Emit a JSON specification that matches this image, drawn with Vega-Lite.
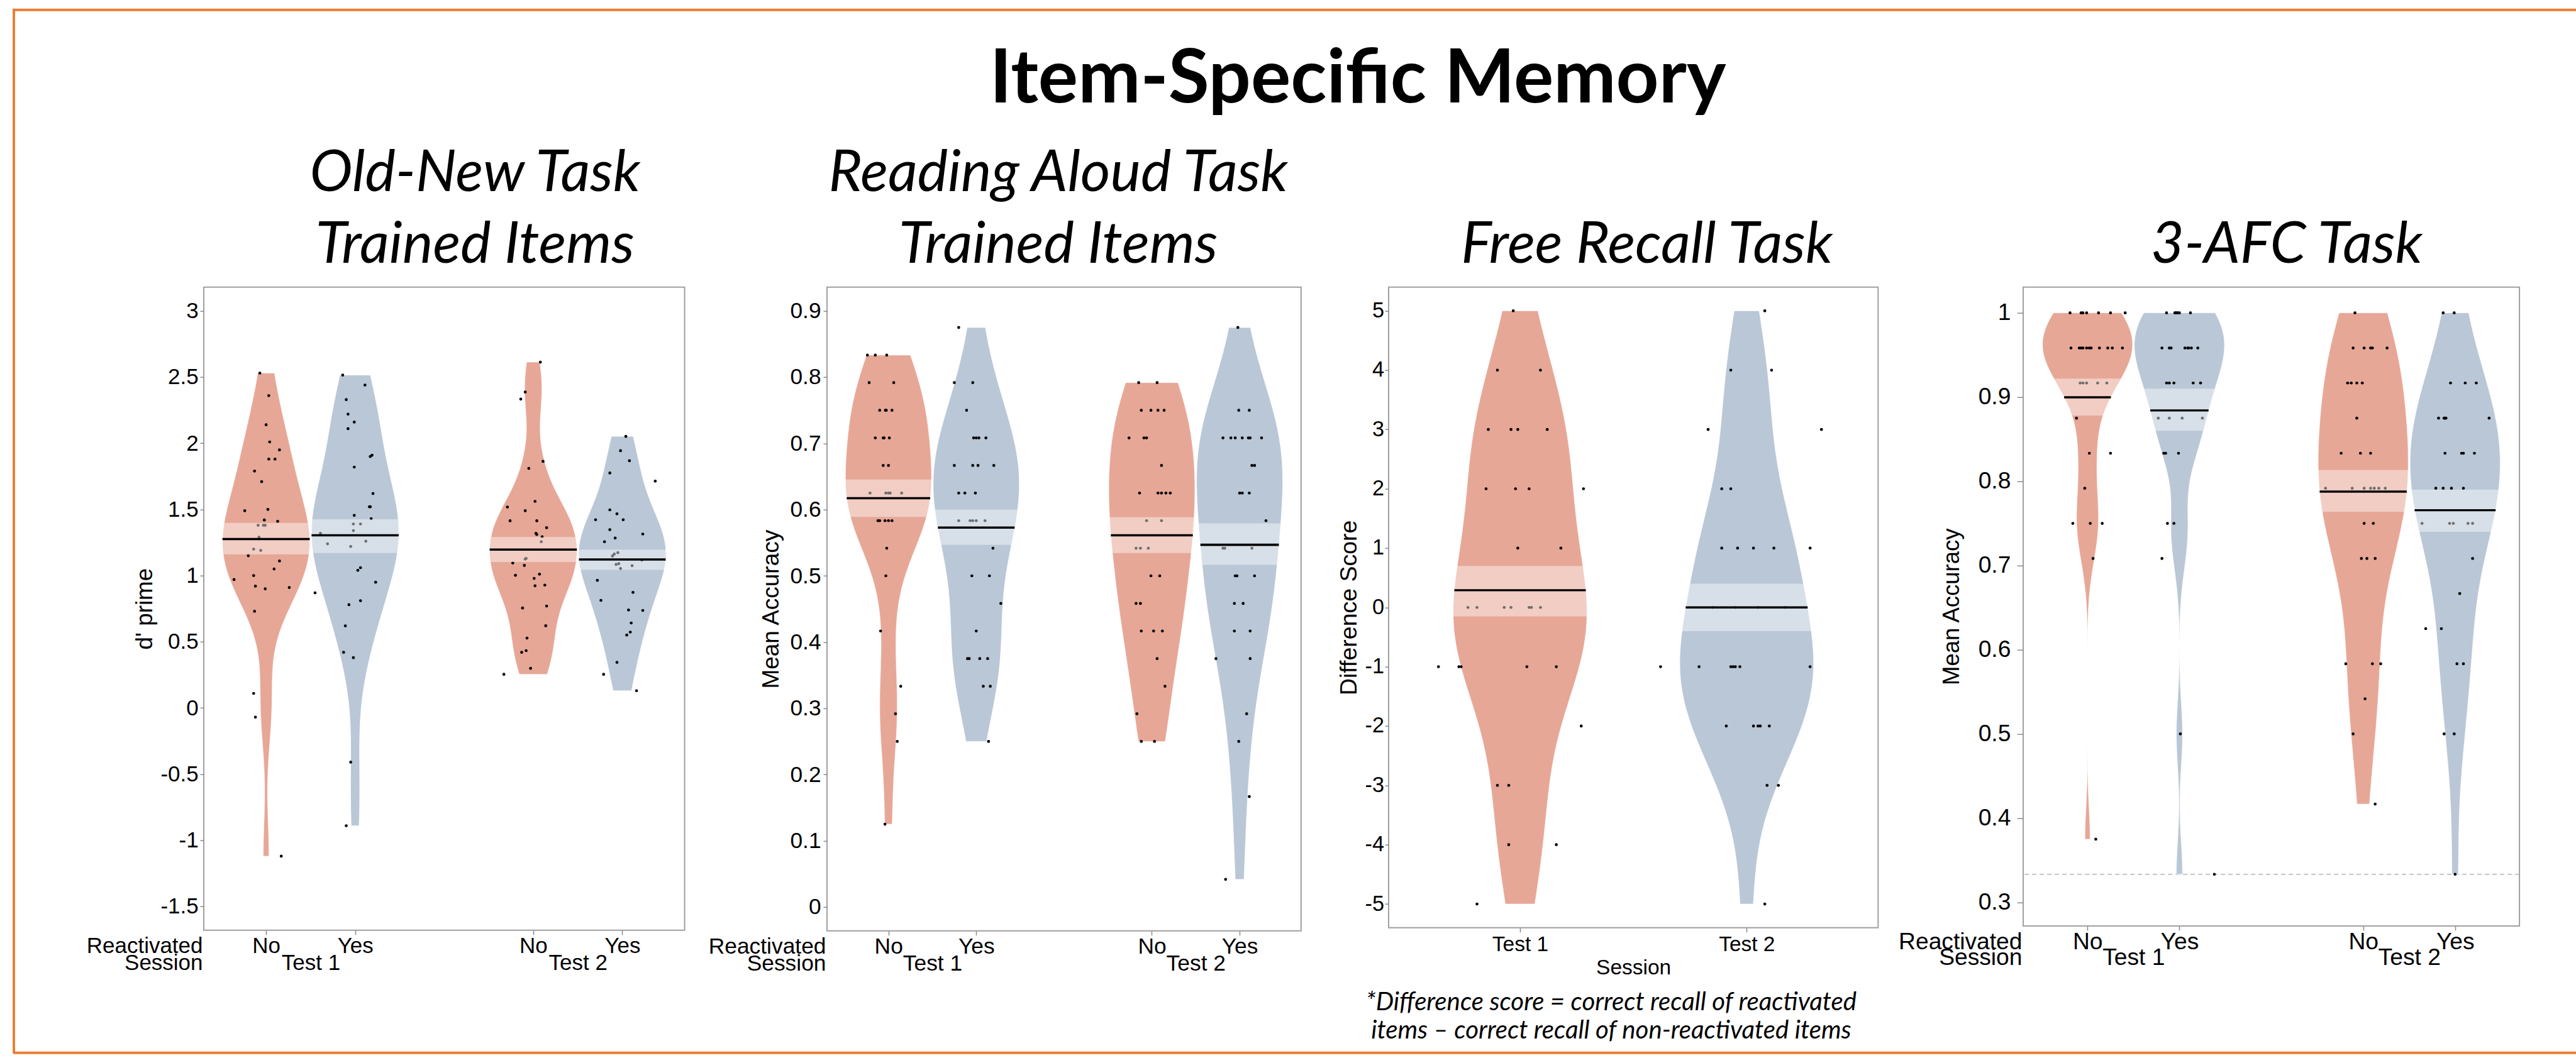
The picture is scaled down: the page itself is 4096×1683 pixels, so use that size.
{
"$schema": "https://vega.github.io/schema/vega-lite/v6.json",
"background": "white",
"padding": {"left": 20, "top": 13.7, "right": -18, "bottom": 3},
"config": {
 "font": "Liberation Sans",
 "view": {"stroke": null},
 "locale": {"number": {"decimal": ".", "thousands": ",", "grouping": [3], "currency": ["$", ""], "minus": "-"}},
 "axis": {"labelFont": "Liberation Sans", "titleFont": "Liberation Sans", "labelColor": "black", "titleColor": "black", "titleFontWeight": "normal", "tickColor": "#8c8c8c", "tickWidth": 1.5, "grid": false, "domain": false, "labelOverlap": false, "labelFlush": false, "labelAngle": 0}
},
"datasets": {
 "p1": [
  {"g":"T1 No","p":1,"v":2.53,"x":0.93},{"g":"T1 No","p":1,"v":2.36,"x":1.03},{"g":"T1 No","p":1,"v":2.14,"x":1.0},{"g":"T1 No","p":1,"v":2.01,"x":1.04},{"g":"T1 No","p":1,"v":1.88,"x":1.03},{"g":"T1 No","p":1,"v":1.88,"x":1.1},{"g":"T1 No","p":1,"v":1.95,"x":1.15},{"g":"T1 No","p":1,"v":1.79,"x":0.87},{"g":"T1 No","p":1,"v":1.71,"x":0.95},{"g":"T1 No","p":1,"v":1.49,"x":0.76},{"g":"T1 No","p":1,"v":1.5,"x":1.02},{"g":"T1 No","p":1,"v":1.42,"x":0.98},{"g":"T1 No","p":1,"v":1.41,"x":1.13},{"g":"T1 No","p":1,"v":1.38,"x":0.91},{"g":"T1 No","p":1,"v":1.38,"x":0.97},{"g":"T1 No","p":1,"v":1.38,"x":0.99},{"g":"T1 No","p":1,"v":1.29,"x":0.92},{"g":"T1 No","p":1,"v":1.2,"x":0.86},{"g":"T1 No","p":1,"v":1.19,"x":0.94},{"g":"T1 No","p":1,"v":1.15,"x":0.8},{"g":"T1 No","p":1,"v":1.11,"x":1.15},{"g":"T1 No","p":1,"v":1.05,"x":1.09},{"g":"T1 No","p":1,"v":0.97,"x":0.64},{"g":"T1 No","p":1,"v":1.0,"x":0.86},{"g":"T1 No","p":1,"v":0.92,"x":0.88},{"g":"T1 No","p":1,"v":0.9,"x":0.99},{"g":"T1 No","p":1,"v":0.91,"x":1.26},{"g":"T1 No","p":1,"v":0.73,"x":0.87},{"g":"T1 No","p":1,"v":0.11,"x":0.86},{"g":"T1 No","p":1,"v":-0.07,"x":0.88},{"g":"T1 No","p":1,"v":-1.12,"x":1.17},
  {"g":"T1 Yes","p":2,"v":2.515,"x":1.86},{"g":"T1 Yes","p":2,"v":2.44,"x":2.11},{"g":"T1 Yes","p":2,"v":2.33,"x":1.9},{"g":"T1 Yes","p":2,"v":2.22,"x":1.92},{"g":"T1 Yes","p":2,"v":2.16,"x":1.99},{"g":"T1 Yes","p":2,"v":2.11,"x":1.92},{"g":"T1 Yes","p":2,"v":1.91,"x":2.19},{"g":"T1 Yes","p":2,"v":1.9,"x":2.17},{"g":"T1 Yes","p":2,"v":1.82,"x":1.99},{"g":"T1 Yes","p":2,"v":1.62,"x":2.2},{"g":"T1 Yes","p":2,"v":1.52,"x":2.16},{"g":"T1 Yes","p":2,"v":1.52,"x":2.17},{"g":"T1 Yes","p":2,"v":1.455,"x":1.99},{"g":"T1 Yes","p":2,"v":1.43,"x":2.18},{"g":"T1 Yes","p":2,"v":1.39,"x":2.06},{"g":"T1 Yes","p":2,"v":1.39,"x":1.98},{"g":"T1 Yes","p":2,"v":1.34,"x":1.98},{"g":"T1 Yes","p":2,"v":1.32,"x":1.61},{"g":"T1 Yes","p":2,"v":1.26,"x":2.12},{"g":"T1 Yes","p":2,"v":1.24,"x":1.69},{"g":"T1 Yes","p":2,"v":1.22,"x":1.95},{"g":"T1 Yes","p":2,"v":1.06,"x":2.06},{"g":"T1 Yes","p":2,"v":1.04,"x":2.03},{"g":"T1 Yes","p":2,"v":0.95,"x":2.23},{"g":"T1 Yes","p":2,"v":0.87,"x":1.55},{"g":"T1 Yes","p":2,"v":0.78,"x":1.93},{"g":"T1 Yes","p":2,"v":0.81,"x":2.06},{"g":"T1 Yes","p":2,"v":0.62,"x":1.89},{"g":"T1 Yes","p":2,"v":0.42,"x":1.87},{"g":"T1 Yes","p":2,"v":0.38,"x":1.98},{"g":"T1 Yes","p":2,"v":-0.41,"x":1.95},{"g":"T1 Yes","p":2,"v":-0.89,"x":1.9},
  {"g":"T2 No","p":4,"v":2.613,"x":4.08},{"g":"T2 No","p":4,"v":2.387,"x":3.91},{"g":"T2 No","p":4,"v":2.334,"x":3.86},{"g":"T2 No","p":4,"v":1.863,"x":4.11},{"g":"T2 No","p":4,"v":1.81,"x":3.95},{"g":"T2 No","p":4,"v":1.561,"x":4.02},{"g":"T2 No","p":4,"v":1.518,"x":3.71},{"g":"T2 No","p":4,"v":1.49,"x":3.91},{"g":"T2 No","p":4,"v":1.414,"x":3.74},{"g":"T2 No","p":4,"v":1.414,"x":4.04},{"g":"T2 No","p":4,"v":1.362,"x":4.15},{"g":"T2 No","p":4,"v":1.319,"x":4.03},{"g":"T2 No","p":4,"v":1.311,"x":4.04},{"g":"T2 No","p":4,"v":1.294,"x":4.1},{"g":"T2 No","p":4,"v":1.256,"x":4.09},{"g":"T2 No","p":4,"v":1.13,"x":3.92},{"g":"T2 No","p":4,"v":1.125,"x":3.91},{"g":"T2 No","p":4,"v":1.095,"x":3.77},{"g":"T2 No","p":4,"v":1.077,"x":3.9},{"g":"T2 No","p":4,"v":1.002,"x":3.8},{"g":"T2 No","p":4,"v":0.979,"x":4.01},{"g":"T2 No","p":4,"v":1.011,"x":4.07},{"g":"T2 No","p":4,"v":0.923,"x":4.02},{"g":"T2 No","p":4,"v":0.928,"x":4.13},{"g":"T2 No","p":4,"v":0.755,"x":3.88},{"g":"T2 No","p":4,"v":0.77,"x":4.15},{"g":"T2 No","p":4,"v":0.621,"x":4.14},{"g":"T2 No","p":4,"v":0.528,"x":3.93},{"g":"T2 No","p":4,"v":0.42,"x":3.87},{"g":"T2 No","p":4,"v":0.433,"x":3.92},{"g":"T2 No","p":4,"v":0.299,"x":3.97},{"g":"T2 No","p":4,"v":0.254,"x":3.67},
  {"g":"T2 Yes","p":5,"v":2.052,"x":5.04},{"g":"T2 Yes","p":5,"v":1.944,"x":4.98},{"g":"T2 Yes","p":5,"v":1.868,"x":5.08},{"g":"T2 Yes","p":5,"v":1.775,"x":4.86},{"g":"T2 Yes","p":5,"v":1.714,"x":5.37},{"g":"T2 Yes","p":5,"v":1.497,"x":4.86},{"g":"T2 Yes","p":5,"v":1.467,"x":4.94},{"g":"T2 Yes","p":5,"v":1.422,"x":4.7},{"g":"T2 Yes","p":5,"v":1.422,"x":5.01},{"g":"T2 Yes","p":5,"v":1.347,"x":4.86},{"g":"T2 Yes","p":5,"v":1.314,"x":5.23},{"g":"T2 Yes","p":5,"v":1.284,"x":4.92},{"g":"T2 Yes","p":5,"v":1.256,"x":4.8},{"g":"T2 Yes","p":5,"v":1.173,"x":4.95},{"g":"T2 Yes","p":5,"v":1.163,"x":4.91},{"g":"T2 Yes","p":5,"v":1.148,"x":4.89},{"g":"T2 Yes","p":5,"v":1.117,"x":5.22},{"g":"T2 Yes","p":5,"v":1.09,"x":4.96},{"g":"T2 Yes","p":5,"v":1.084,"x":4.93},{"g":"T2 Yes","p":5,"v":1.075,"x":5.11},{"g":"T2 Yes","p":5,"v":1.054,"x":4.98},{"g":"T2 Yes","p":5,"v":0.964,"x":4.72},{"g":"T2 Yes","p":5,"v":0.873,"x":5.12},{"g":"T2 Yes","p":5,"v":0.813,"x":4.76},{"g":"T2 Yes","p":5,"v":0.74,"x":5.07},{"g":"T2 Yes","p":5,"v":0.737,"x":5.23},{"g":"T2 Yes","p":5,"v":0.642,"x":5.1},{"g":"T2 Yes","p":5,"v":0.573,"x":5.09},{"g":"T2 Yes","p":5,"v":0.551,"x":5.05},{"g":"T2 Yes","p":5,"v":0.344,"x":4.94},{"g":"T2 Yes","p":5,"v":0.254,"x":4.79},{"g":"T2 Yes","p":5,"v":0.13,"x":5.16}
 ],
 "p2": [
  {"g":"T1 No","p":1,"v":0.8333,"x":0.76},{"g":"T1 No","p":1,"v":0.8333,"x":0.85},{"g":"T1 No","p":1,"v":0.8333,"x":0.98},{"g":"T1 No","p":1,"v":0.7917,"x":0.78},{"g":"T1 No","p":1,"v":0.7917,"x":1.06},{"g":"T1 No","p":1,"v":0.75,"x":0.9},{"g":"T1 No","p":1,"v":0.75,"x":0.965},{"g":"T1 No","p":1,"v":0.75,"x":0.975},{"g":"T1 No","p":1,"v":0.75,"x":1.04},{"g":"T1 No","p":1,"v":0.7083,"x":0.85},{"g":"T1 No","p":1,"v":0.7083,"x":0.94},{"g":"T1 No","p":1,"v":0.7083,"x":0.95},{"g":"T1 No","p":1,"v":0.7083,"x":1.01},{"g":"T1 No","p":1,"v":0.6667,"x":0.94},{"g":"T1 No","p":1,"v":0.6667,"x":1.0},{"g":"T1 No","p":1,"v":0.625,"x":0.79},{"g":"T1 No","p":1,"v":0.625,"x":0.97},{"g":"T1 No","p":1,"v":0.625,"x":1.0},{"g":"T1 No","p":1,"v":0.625,"x":1.02},{"g":"T1 No","p":1,"v":0.625,"x":1.15},{"g":"T1 No","p":1,"v":0.5833,"x":0.88},{"g":"T1 No","p":1,"v":0.5833,"x":0.9},{"g":"T1 No","p":1,"v":0.5833,"x":0.96},{"g":"T1 No","p":1,"v":0.5833,"x":1.0},{"g":"T1 No","p":1,"v":0.5833,"x":1.04},{"g":"T1 No","p":1,"v":0.5417,"x":0.98},{"g":"T1 No","p":1,"v":0.5,"x":0.97},{"g":"T1 No","p":1,"v":0.4167,"x":0.91},{"g":"T1 No","p":1,"v":0.3333,"x":1.14},{"g":"T1 No","p":1,"v":0.2917,"x":1.08},{"g":"T1 No","p":1,"v":0.25,"x":1.1},{"g":"T1 No","p":1,"v":0.125,"x":0.96},
  {"g":"T1 Yes","p":2,"v":0.875,"x":1.8},{"g":"T1 Yes","p":2,"v":0.7917,"x":1.75},{"g":"T1 Yes","p":2,"v":0.7917,"x":1.96},{"g":"T1 Yes","p":2,"v":0.75,"x":1.89},{"g":"T1 Yes","p":2,"v":0.7083,"x":1.97},{"g":"T1 Yes","p":2,"v":0.7083,"x":2.0},{"g":"T1 Yes","p":2,"v":0.7083,"x":2.03},{"g":"T1 Yes","p":2,"v":0.7083,"x":2.11},{"g":"T1 Yes","p":2,"v":0.6667,"x":1.75},{"g":"T1 Yes","p":2,"v":0.6667,"x":1.96},{"g":"T1 Yes","p":2,"v":0.6667,"x":2.02},{"g":"T1 Yes","p":2,"v":0.6667,"x":2.2},{"g":"T1 Yes","p":2,"v":0.625,"x":1.8},{"g":"T1 Yes","p":2,"v":0.625,"x":1.87},{"g":"T1 Yes","p":2,"v":0.625,"x":1.99},{"g":"T1 Yes","p":2,"v":0.5833,"x":1.8},{"g":"T1 Yes","p":2,"v":0.5833,"x":1.93},{"g":"T1 Yes","p":2,"v":0.5833,"x":1.96},{"g":"T1 Yes","p":2,"v":0.5833,"x":2.0},{"g":"T1 Yes","p":2,"v":0.5833,"x":2.1},{"g":"T1 Yes","p":2,"v":0.5417,"x":2.19},{"g":"T1 Yes","p":2,"v":0.5,"x":1.95},{"g":"T1 Yes","p":2,"v":0.5,"x":2.15},{"g":"T1 Yes","p":2,"v":0.4583,"x":2.28},{"g":"T1 Yes","p":2,"v":0.4167,"x":2.0},{"g":"T1 Yes","p":2,"v":0.375,"x":1.9},{"g":"T1 Yes","p":2,"v":0.375,"x":1.92},{"g":"T1 Yes","p":2,"v":0.375,"x":2.04},{"g":"T1 Yes","p":2,"v":0.375,"x":2.13},{"g":"T1 Yes","p":2,"v":0.3333,"x":2.08},{"g":"T1 Yes","p":2,"v":0.3333,"x":2.16},{"g":"T1 Yes","p":2,"v":0.25,"x":2.14},
  {"g":"T2 No","p":4,"v":0.7917,"x":3.85},{"g":"T2 No","p":4,"v":0.7917,"x":4.06},{"g":"T2 No","p":4,"v":0.75,"x":3.88},{"g":"T2 No","p":4,"v":0.75,"x":3.99},{"g":"T2 No","p":4,"v":0.75,"x":4.07},{"g":"T2 No","p":4,"v":0.75,"x":4.14},{"g":"T2 No","p":4,"v":0.7083,"x":3.74},{"g":"T2 No","p":4,"v":0.7083,"x":3.91},{"g":"T2 No","p":4,"v":0.7083,"x":3.94},{"g":"T2 No","p":4,"v":0.6667,"x":4.11},{"g":"T2 No","p":4,"v":0.625,"x":3.86},{"g":"T2 No","p":4,"v":0.625,"x":4.07},{"g":"T2 No","p":4,"v":0.625,"x":4.11},{"g":"T2 No","p":4,"v":0.625,"x":4.16},{"g":"T2 No","p":4,"v":0.625,"x":4.21},{"g":"T2 No","p":4,"v":0.5833,"x":3.94},{"g":"T2 No","p":4,"v":0.5833,"x":4.11},{"g":"T2 No","p":4,"v":0.5417,"x":3.82},{"g":"T2 No","p":4,"v":0.5417,"x":3.87},{"g":"T2 No","p":4,"v":0.5417,"x":3.96},{"g":"T2 No","p":4,"v":0.5,"x":3.99},{"g":"T2 No","p":4,"v":0.5,"x":4.09},{"g":"T2 No","p":4,"v":0.4583,"x":3.82},{"g":"T2 No","p":4,"v":0.4583,"x":3.87},{"g":"T2 No","p":4,"v":0.4167,"x":3.88},{"g":"T2 No","p":4,"v":0.4167,"x":4.02},{"g":"T2 No","p":4,"v":0.4167,"x":4.12},{"g":"T2 No","p":4,"v":0.375,"x":4.06},{"g":"T2 No","p":4,"v":0.3333,"x":4.15},{"g":"T2 No","p":4,"v":0.2917,"x":3.83},{"g":"T2 No","p":4,"v":0.25,"x":3.88},{"g":"T2 No","p":4,"v":0.25,"x":4.03},
  {"g":"T2 Yes","p":5,"v":0.875,"x":4.98},{"g":"T2 Yes","p":5,"v":0.75,"x":4.99},{"g":"T2 Yes","p":5,"v":0.75,"x":5.11},{"g":"T2 Yes","p":5,"v":0.7083,"x":4.81},{"g":"T2 Yes","p":5,"v":0.7083,"x":4.9},{"g":"T2 Yes","p":5,"v":0.7083,"x":4.95},{"g":"T2 Yes","p":5,"v":0.7083,"x":5.03},{"g":"T2 Yes","p":5,"v":0.7083,"x":5.1},{"g":"T2 Yes","p":5,"v":0.7083,"x":5.12},{"g":"T2 Yes","p":5,"v":0.7083,"x":5.25},{"g":"T2 Yes","p":5,"v":0.6667,"x":5.14},{"g":"T2 Yes","p":5,"v":0.6667,"x":5.17},{"g":"T2 Yes","p":5,"v":0.625,"x":5.0},{"g":"T2 Yes","p":5,"v":0.625,"x":5.03},{"g":"T2 Yes","p":5,"v":0.625,"x":5.11},{"g":"T2 Yes","p":5,"v":0.5833,"x":5.3},{"g":"T2 Yes","p":5,"v":0.5417,"x":4.81},{"g":"T2 Yes","p":5,"v":0.5417,"x":4.83},{"g":"T2 Yes","p":5,"v":0.5417,"x":5.14},{"g":"T2 Yes","p":5,"v":0.5,"x":4.95},{"g":"T2 Yes","p":5,"v":0.5,"x":4.97},{"g":"T2 Yes","p":5,"v":0.5,"x":5.17},{"g":"T2 Yes","p":5,"v":0.4583,"x":4.94},{"g":"T2 Yes","p":5,"v":0.4583,"x":5.04},{"g":"T2 Yes","p":5,"v":0.4167,"x":4.94},{"g":"T2 Yes","p":5,"v":0.4167,"x":5.12},{"g":"T2 Yes","p":5,"v":0.375,"x":4.73},{"g":"T2 Yes","p":5,"v":0.375,"x":5.12},{"g":"T2 Yes","p":5,"v":0.2917,"x":5.08},{"g":"T2 Yes","p":5,"v":0.25,"x":4.99},{"g":"T2 Yes","p":5,"v":0.1667,"x":5.11},{"g":"T2 Yes","p":5,"v":0.0417,"x":4.84}
 ],
 "p3": [
  {"g":"T1","p":1,"v":5,"x":0.97},{"g":"T1","p":1,"v":4,"x":0.9},{"g":"T1","p":1,"v":4,"x":1.09},{"g":"T1","p":1,"v":3,"x":0.86},{"g":"T1","p":1,"v":3,"x":0.96},{"g":"T1","p":1,"v":3,"x":0.99},{"g":"T1","p":1,"v":3,"x":1.12},{"g":"T1","p":1,"v":2,"x":0.85},{"g":"T1","p":1,"v":2,"x":0.98},{"g":"T1","p":1,"v":2,"x":1.04},{"g":"T1","p":1,"v":2,"x":1.28},{"g":"T1","p":1,"v":1,"x":0.99},{"g":"T1","p":1,"v":1,"x":1.18},{"g":"T1","p":1,"v":0,"x":0.77},{"g":"T1","p":1,"v":0,"x":0.81},{"g":"T1","p":1,"v":0,"x":0.93},{"g":"T1","p":1,"v":0,"x":0.96},{"g":"T1","p":1,"v":0,"x":1.04},{"g":"T1","p":1,"v":0,"x":1.05},{"g":"T1","p":1,"v":0,"x":1.09},{"g":"T1","p":1,"v":-1,"x":0.64},{"g":"T1","p":1,"v":-1,"x":0.73},{"g":"T1","p":1,"v":-1,"x":0.74},{"g":"T1","p":1,"v":-1,"x":1.03},{"g":"T1","p":1,"v":-1,"x":1.16},{"g":"T1","p":1,"v":-2,"x":1.27},{"g":"T1","p":1,"v":-3,"x":0.9},{"g":"T1","p":1,"v":-3,"x":0.95},{"g":"T1","p":1,"v":-4,"x":0.95},{"g":"T1","p":1,"v":-4,"x":1.16},{"g":"T1","p":1,"v":-5,"x":0.81},
  {"g":"T2","p":2,"v":5,"x":2.08},{"g":"T2","p":2,"v":4,"x":1.93},{"g":"T2","p":2,"v":4,"x":2.11},{"g":"T2","p":2,"v":3,"x":1.83},{"g":"T2","p":2,"v":3,"x":2.33},{"g":"T2","p":2,"v":2,"x":1.89},{"g":"T2","p":2,"v":2,"x":1.93},{"g":"T2","p":2,"v":1,"x":1.89},{"g":"T2","p":2,"v":1,"x":1.96},{"g":"T2","p":2,"v":1,"x":2.03},{"g":"T2","p":2,"v":1,"x":2.12},{"g":"T2","p":2,"v":1,"x":2.28},{"g":"T2","p":2,"v":0,"x":1.85},{"g":"T2","p":2,"v":0,"x":1.95},{"g":"T2","p":2,"v":0,"x":2.05},{"g":"T2","p":2,"v":0,"x":2.17},{"g":"T2","p":2,"v":-1,"x":1.62},{"g":"T2","p":2,"v":-1,"x":1.79},{"g":"T2","p":2,"v":-1,"x":1.93},{"g":"T2","p":2,"v":-1,"x":1.94},{"g":"T2","p":2,"v":-1,"x":1.95},{"g":"T2","p":2,"v":-1,"x":1.97},{"g":"T2","p":2,"v":-1,"x":2.28},{"g":"T2","p":2,"v":-2,"x":1.91},{"g":"T2","p":2,"v":-2,"x":2.03},{"g":"T2","p":2,"v":-2,"x":2.05},{"g":"T2","p":2,"v":-2,"x":2.06},{"g":"T2","p":2,"v":-2,"x":2.1},{"g":"T2","p":2,"v":-3,"x":2.09},{"g":"T2","p":2,"v":-3,"x":2.14},{"g":"T2","p":2,"v":-5,"x":2.08}
 ],
 "p4": [
  {"g":"T1 No","p":1,"v":1,"x":0.81},{"g":"T1 No","p":1,"v":1,"x":0.93},{"g":"T1 No","p":1,"v":1,"x":0.95},{"g":"T1 No","p":1,"v":1,"x":0.99},{"g":"T1 No","p":1,"v":1,"x":1.12},{"g":"T1 No","p":1,"v":1,"x":1.25},{"g":"T1 No","p":1,"v":1,"x":1.41},{"g":"T1 No","p":1,"v":0.9583,"x":0.82},{"g":"T1 No","p":1,"v":0.9583,"x":0.91},{"g":"T1 No","p":1,"v":0.9583,"x":0.93},{"g":"T1 No","p":1,"v":0.9583,"x":0.95},{"g":"T1 No","p":1,"v":0.9583,"x":0.99},{"g":"T1 No","p":1,"v":0.9583,"x":1.02},{"g":"T1 No","p":1,"v":0.9583,"x":1.04},{"g":"T1 No","p":1,"v":0.9583,"x":1.13},{"g":"T1 No","p":1,"v":0.9583,"x":1.22},{"g":"T1 No","p":1,"v":0.9583,"x":1.27},{"g":"T1 No","p":1,"v":0.9583,"x":1.38},{"g":"T1 No","p":1,"v":0.9167,"x":0.92},{"g":"T1 No","p":1,"v":0.9167,"x":0.95},{"g":"T1 No","p":1,"v":0.9167,"x":0.99},{"g":"T1 No","p":1,"v":0.9167,"x":1.11},{"g":"T1 No","p":1,"v":0.9167,"x":1.21},{"g":"T1 No","p":1,"v":0.875,"x":0.88},{"g":"T1 No","p":1,"v":0.8333,"x":1.02},{"g":"T1 No","p":1,"v":0.8333,"x":1.25},{"g":"T1 No","p":1,"v":0.7917,"x":0.97},{"g":"T1 No","p":1,"v":0.75,"x":0.84},{"g":"T1 No","p":1,"v":0.75,"x":1.03},{"g":"T1 No","p":1,"v":0.75,"x":1.16},{"g":"T1 No","p":1,"v":0.7083,"x":1.06},{"g":"T1 No","p":1,"v":0.375,"x":1.09},
  {"g":"T1 Yes","p":2,"v":1,"x":1.86},{"g":"T1 Yes","p":2,"v":1,"x":1.95},{"g":"T1 Yes","p":2,"v":1,"x":1.96},{"g":"T1 Yes","p":2,"v":1,"x":1.975},{"g":"T1 Yes","p":2,"v":1,"x":1.98},{"g":"T1 Yes","p":2,"v":1,"x":2.0},{"g":"T1 Yes","p":2,"v":1,"x":2.12},{"g":"T1 Yes","p":2,"v":0.9583,"x":1.81},{"g":"T1 Yes","p":2,"v":0.9583,"x":1.89},{"g":"T1 Yes","p":2,"v":0.9583,"x":1.91},{"g":"T1 Yes","p":2,"v":0.9583,"x":2.06},{"g":"T1 Yes","p":2,"v":0.9583,"x":2.09},{"g":"T1 Yes","p":2,"v":0.9583,"x":2.1},{"g":"T1 Yes","p":2,"v":0.9583,"x":2.13},{"g":"T1 Yes","p":2,"v":0.9583,"x":2.2},{"g":"T1 Yes","p":2,"v":0.9167,"x":1.86},{"g":"T1 Yes","p":2,"v":0.9167,"x":1.89},{"g":"T1 Yes","p":2,"v":0.9167,"x":1.94},{"g":"T1 Yes","p":2,"v":0.9167,"x":2.15},{"g":"T1 Yes","p":2,"v":0.9167,"x":2.23},{"g":"T1 Yes","p":2,"v":0.875,"x":1.77},{"g":"T1 Yes","p":2,"v":0.875,"x":1.89},{"g":"T1 Yes","p":2,"v":0.875,"x":2.03},{"g":"T1 Yes","p":2,"v":0.875,"x":2.25},{"g":"T1 Yes","p":2,"v":0.8333,"x":1.83},{"g":"T1 Yes","p":2,"v":0.8333,"x":1.85},{"g":"T1 Yes","p":2,"v":0.8333,"x":1.99},{"g":"T1 Yes","p":2,"v":0.75,"x":1.87},{"g":"T1 Yes","p":2,"v":0.75,"x":1.94},{"g":"T1 Yes","p":2,"v":0.7083,"x":1.81},{"g":"T1 Yes","p":2,"v":0.5,"x":2.01},{"g":"T1 Yes","p":2,"v":0.3333,"x":2.38},
  {"g":"T2 No","p":4,"v":1,"x":3.91},{"g":"T2 No","p":4,"v":0.9583,"x":3.89},{"g":"T2 No","p":4,"v":0.9583,"x":4.01},{"g":"T2 No","p":4,"v":0.9583,"x":4.08},{"g":"T2 No","p":4,"v":0.9583,"x":4.1},{"g":"T2 No","p":4,"v":0.9583,"x":4.26},{"g":"T2 No","p":4,"v":0.9167,"x":3.83},{"g":"T2 No","p":4,"v":0.9167,"x":3.87},{"g":"T2 No","p":4,"v":0.9167,"x":3.93},{"g":"T2 No","p":4,"v":0.9167,"x":3.99},{"g":"T2 No","p":4,"v":0.875,"x":3.93},{"g":"T2 No","p":4,"v":0.8333,"x":3.76},{"g":"T2 No","p":4,"v":0.8333,"x":3.97},{"g":"T2 No","p":4,"v":0.8333,"x":4.08},{"g":"T2 No","p":4,"v":0.7917,"x":3.59},{"g":"T2 No","p":4,"v":0.7917,"x":3.88},{"g":"T2 No","p":4,"v":0.7917,"x":4.01},{"g":"T2 No","p":4,"v":0.7917,"x":4.08},{"g":"T2 No","p":4,"v":0.7917,"x":4.12},{"g":"T2 No","p":4,"v":0.7917,"x":4.17},{"g":"T2 No","p":4,"v":0.7917,"x":4.24},{"g":"T2 No","p":4,"v":0.75,"x":4.01},{"g":"T2 No","p":4,"v":0.75,"x":4.11},{"g":"T2 No","p":4,"v":0.7083,"x":3.98},{"g":"T2 No","p":4,"v":0.7083,"x":4.04},{"g":"T2 No","p":4,"v":0.7083,"x":4.13},{"g":"T2 No","p":4,"v":0.5833,"x":3.81},{"g":"T2 No","p":4,"v":0.5833,"x":4.1},{"g":"T2 No","p":4,"v":0.5833,"x":4.19},{"g":"T2 No","p":4,"v":0.5417,"x":4.02},{"g":"T2 No","p":4,"v":0.5,"x":3.89},{"g":"T2 No","p":4,"v":0.4167,"x":4.13},
  {"g":"T2 Yes","p":5,"v":1,"x":4.87},{"g":"T2 Yes","p":5,"v":1,"x":4.99},{"g":"T2 Yes","p":5,"v":0.9167,"x":4.95},{"g":"T2 Yes","p":5,"v":0.9167,"x":5.11},{"g":"T2 Yes","p":5,"v":0.9167,"x":5.23},{"g":"T2 Yes","p":5,"v":0.875,"x":4.82},{"g":"T2 Yes","p":5,"v":0.875,"x":4.88},{"g":"T2 Yes","p":5,"v":0.875,"x":4.89},{"g":"T2 Yes","p":5,"v":0.875,"x":4.9},{"g":"T2 Yes","p":5,"v":0.875,"x":5.37},{"g":"T2 Yes","p":5,"v":0.8333,"x":4.89},{"g":"T2 Yes","p":5,"v":0.8333,"x":5.07},{"g":"T2 Yes","p":5,"v":0.8333,"x":5.09},{"g":"T2 Yes","p":5,"v":0.8333,"x":5.21},{"g":"T2 Yes","p":5,"v":0.7917,"x":4.79},{"g":"T2 Yes","p":5,"v":0.7917,"x":4.87},{"g":"T2 Yes","p":5,"v":0.7917,"x":4.96},{"g":"T2 Yes","p":5,"v":0.7917,"x":5.09},{"g":"T2 Yes","p":5,"v":0.75,"x":4.64},{"g":"T2 Yes","p":5,"v":0.75,"x":4.94},{"g":"T2 Yes","p":5,"v":0.75,"x":4.98},{"g":"T2 Yes","p":5,"v":0.75,"x":5.14},{"g":"T2 Yes","p":5,"v":0.75,"x":5.19},{"g":"T2 Yes","p":5,"v":0.7083,"x":5.19},{"g":"T2 Yes","p":5,"v":0.6667,"x":5.05},{"g":"T2 Yes","p":5,"v":0.625,"x":4.68},{"g":"T2 Yes","p":5,"v":0.625,"x":4.85},{"g":"T2 Yes","p":5,"v":0.5833,"x":5.02},{"g":"T2 Yes","p":5,"v":0.5833,"x":5.09},{"g":"T2 Yes","p":5,"v":0.5,"x":4.88},{"g":"T2 Yes","p":5,"v":0.5,"x":4.99},{"g":"T2 Yes","p":5,"v":0.3333,"x":5.0}
 ]
},
"hconcat": [
 {"width": 0.01, "height": 1657.4, "view": {"stroke": "#ED7D31", "strokeWidth": 3.9}, "data": {"values": []}, "mark": "point"},
 {
  "vconcat": [
   {"width": 4090, "height": 0.01, "view": {"stroke": "#ED7D31", "strokeWidth": 3.9}, "data": {"values": []}, "mark": "point"},
   {"width": 1, "height": 439.6, "data": {"values": []}, "mark": "point"},
   {
    "hconcat": [
     {"width": 301, "height": 1, "data": {"values": []}, "mark": "point"},
     {
      "width": 764.6, "height": 1023.1,
      "view": {"stroke": "#a0a0a0", "strokeWidth": 2},
      "data": {"name": "p1"},
      "resolve": {"axis": {"x": "independent", "y": "independent"}},
      "layer": [
       {
        "transform": [
         {"joinaggregate": [{"op": "mean", "field": "v", "as": "m"}, {"op": "stderr", "field": "v", "as": "se"}], "groupby": ["g"]},
         {"density": "v", "groupby": ["g", "p", "m", "se"], "steps": 200, "resolve": "independent", "as": ["val", "dens"]},
         {"joinaggregate": [{"op": "max", "field": "dens", "as": "dmax"}], "groupby": ["g"]},
         {"calculate": "datum.p - 0.49*datum.dens/datum.dmax", "as": "xl"},
         {"calculate": "datum.p + 0.49*datum.dens/datum.dmax", "as": "xr"}
        ],
        "mark": {"type": "area", "orient": "horizontal", "stroke": "white", "strokeWidth": 1, "strokeOpacity": 0.6},
        "encoding": {
         "y": {"field": "val", "type": "quantitative", "scale": {"domain": [-1.68, 3.18], "nice": false, "zero": false}, "axis": null},
         "x": {"field": "xl", "type": "quantitative", "scale": {"domain": [0.3, 5.7], "nice": false, "zero": false},
          "axis": {"orient": "top", "labels": false, "ticks": false, "tickSize": 0, "domain": false, "title": "Item-Specific Memory", "titleFont": "Lato", "titleFontWeight": "bold", "titleFontSize": 118.6, "titleX": 1834.6, "titleY": -293.7, "titleAlign": "center", "titleBaseline": "alphabetic", "titleAngle": 0}},
         "x2": {"field": "xr"},
         "detail": {"field": "g"},
         "color": {"field": "g", "type": "nominal", "scale": {"domain": ["T1 No", "T1 Yes", "T2 No", "T2 Yes"], "range": ["#E7A797", "#B9C7D7", "#E7A797", "#B9C7D7"]}, "legend": null}
        }
       },
       {
        "mark": {"type": "circle", "size": 22, "color": "black", "opacity": 1},
        "encoding": {
         "x": {"field": "x", "type": "quantitative", "scale": {"domain": [0.3, 5.7], "nice": false, "zero": false},
          "axis": {"orient": "bottom", "values": [1, 2, 4, 5], "labelExpr": "datum.value == 1 || datum.value == 4 ? 'No' : 'Yes'", "labelFontSize": 35, "tickSize": 7, "labelPadding": 0.7, "title": "Reactivated", "titleFontSize": 35, "titleX": -2, "titleY": 35.7, "titleAlign": "right", "titleBaseline": "alphabetic", "titleAngle": 0}},
         "y": {"field": "v", "type": "quantitative", "scale": {"domain": [-1.68, 3.18], "nice": false, "zero": false},
          "axis": {"orient": "left", "values": [-1.5, -1, -0.5, 0, 0.5, 1, 1.5, 2, 2.5, 3], "format": "~g", "labelFontSize": 35, "tickSize": 6, "labelPadding": 2.8, "title": "d' prime", "titleFontSize": 36.8, "titleX": -82.2, "titleY": 511.5, "titleAngle": -90, "titleAlign": "center", "titleBaseline": "alphabetic"}}
        }
       },
       {
        "transform": [
         {"joinaggregate": [{"op": "mean", "field": "v", "as": "m"}, {"op": "stderr", "field": "v", "as": "se"}], "groupby": ["g"]},
         {"density": "v", "groupby": ["g", "p", "m", "se"], "steps": 200, "resolve": "independent", "as": ["val", "dens"]},
         {"joinaggregate": [{"op": "max", "field": "dens", "as": "dmax"}], "groupby": ["g"]},
         {"calculate": "datum.p - 0.49*datum.dens/datum.dmax", "as": "xl"},
         {"calculate": "datum.p + 0.49*datum.dens/datum.dmax", "as": "xr"},
         {"filter": "datum.val >= datum.m - datum.se && datum.val <= datum.m + datum.se"}
        ],
        "mark": {"type": "area", "orient": "horizontal", "color": "white", "opacity": 0.43},
        "encoding": {
         "y": {"field": "val", "type": "quantitative", "scale": {"domain": [-1.68, 3.18], "nice": false, "zero": false}, "axis": null},
         "x": {"field": "xl", "type": "quantitative", "scale": {"domain": [0.3, 5.7], "nice": false, "zero": false},
          "axis": {"orient": "top", "labels": false, "ticks": false, "tickSize": 0, "domain": false, "title": ["Old-New Task", "Trained Items"], "titleFont": "Lato", "titleFontStyle": "italic", "titleFontSize": 91.5, "titleLineHeight": 113.6, "titleX": 430.8, "titleY": -153.2, "titleAlign": "center", "titleBaseline": "alphabetic", "titleAngle": 0}},
         "x2": {"field": "xr"},
         "detail": {"field": "g"}
        }
       },
       {
        "transform": [
         {"joinaggregate": [{"op": "mean", "field": "v", "as": "m"}, {"op": "stderr", "field": "v", "as": "se"}], "groupby": ["g"]},
         {"density": "v", "groupby": ["g", "p", "m", "se"], "steps": 200, "resolve": "independent", "as": ["val", "dens"]},
         {"joinaggregate": [{"op": "max", "field": "dens", "as": "dmax"}], "groupby": ["g"]},
         {"calculate": "datum.p - 0.49*datum.dens/datum.dmax", "as": "xl"},
         {"calculate": "datum.p + 0.49*datum.dens/datum.dmax", "as": "xr"},
         {"calculate": "abs(datum.val - datum.m)", "as": "dd"},
         {"joinaggregate": [{"op": "min", "field": "dd", "as": "dmin"}], "groupby": ["g"]},
         {"filter": "datum.dd == datum.dmin"}
        ],
        "mark": {"type": "rule", "color": "black", "strokeWidth": 3.6},
        "encoding": {
         "y": {"field": "m", "type": "quantitative", "scale": {"domain": [-1.68, 3.18], "nice": false, "zero": false}, "axis": null},
         "x": {"field": "xl", "type": "quantitative", "scale": {"domain": [0.3, 5.7], "nice": false, "zero": false},
          "axis": {"orient": "bottom", "values": [1.5, 4.5], "labelExpr": "datum.value < 3 ? 'Test 1' : 'Test 2'", "labelFontSize": 35, "ticks": false, "tickSize": 0, "labelPadding": 34.7, "title": "Session", "titleFontSize": 35, "titleX": -2, "titleY": 62.7, "titleAlign": "right", "titleBaseline": "alphabetic", "titleAngle": 0}},
         "x2": {"field": "xr"}
        }
       }
      ]
     },
     {"width": 225.2, "height": 1, "data": {"values": []}, "mark": "point"},
     {
      "width": 753.8, "height": 1024,
      "view": {"stroke": "#a0a0a0", "strokeWidth": 2},
      "data": {"name": "p2"},
      "resolve": {"axis": {"x": "independent", "y": "independent"}},
      "layer": [
       {
        "transform": [
         {"joinaggregate": [{"op": "mean", "field": "v", "as": "m"}, {"op": "stderr", "field": "v", "as": "se"}], "groupby": ["g"]},
         {"density": "v", "groupby": ["g", "p", "m", "se"], "steps": 200, "resolve": "independent", "as": ["val", "dens"]},
         {"joinaggregate": [{"op": "max", "field": "dens", "as": "dmax"}], "groupby": ["g"]},
         {"calculate": "datum.p - 0.49*datum.dens/datum.dmax", "as": "xl"},
         {"calculate": "datum.p + 0.49*datum.dens/datum.dmax", "as": "xr"}
        ],
        "mark": {"type": "area", "orient": "horizontal", "stroke": "white", "strokeWidth": 1, "strokeOpacity": 0.6},
        "encoding": {
         "y": {"field": "val", "type": "quantitative", "scale": {"domain": [-0.036, 0.936], "nice": false, "zero": false}, "axis": null},
         "x": {"field": "xl", "type": "quantitative", "scale": {"domain": [0.3, 5.7], "nice": false, "zero": false}, "axis": null},
         "x2": {"field": "xr"},
         "detail": {"field": "g"},
         "color": {"field": "g", "type": "nominal", "scale": {"domain": ["T1 No", "T1 Yes", "T2 No", "T2 Yes"], "range": ["#E7A797", "#B9C7D7", "#E7A797", "#B9C7D7"]}, "legend": null}
        }
       },
       {
        "mark": {"type": "circle", "size": 22, "color": "black", "opacity": 1},
        "encoding": {
         "x": {"field": "x", "type": "quantitative", "scale": {"domain": [0.3, 5.7], "nice": false, "zero": false},
          "axis": {"orient": "bottom", "values": [1, 2, 4, 5], "labelExpr": "datum.value == 1 || datum.value == 4 ? 'No' : 'Yes'", "labelFontSize": 35.4, "tickSize": 7, "labelPadding": 0.6, "title": "Reactivated", "titleFontSize": 35.4, "titleX": -2, "titleY": 35.6, "titleAlign": "right", "titleBaseline": "alphabetic", "titleAngle": 0}},
         "y": {"field": "v", "type": "quantitative", "scale": {"domain": [-0.036, 0.936], "nice": false, "zero": false},
          "axis": {"orient": "left", "values": [0, 0.1, 0.2, 0.3, 0.4, 0.5, 0.6, 0.7, 0.8, 0.9], "format": "~g", "labelFontSize": 35.4, "tickSize": 6, "labelPadding": 3.9, "title": "Mean Accuracy", "titleFontSize": 37, "titleX": -77.6, "titleY": 512, "titleAngle": -90, "titleAlign": "center", "titleBaseline": "alphabetic"}}
        }
       },
       {
        "transform": [
         {"joinaggregate": [{"op": "mean", "field": "v", "as": "m"}, {"op": "stderr", "field": "v", "as": "se"}], "groupby": ["g"]},
         {"density": "v", "groupby": ["g", "p", "m", "se"], "steps": 200, "resolve": "independent", "as": ["val", "dens"]},
         {"joinaggregate": [{"op": "max", "field": "dens", "as": "dmax"}], "groupby": ["g"]},
         {"calculate": "datum.p - 0.49*datum.dens/datum.dmax", "as": "xl"},
         {"calculate": "datum.p + 0.49*datum.dens/datum.dmax", "as": "xr"},
         {"filter": "datum.val >= datum.m - datum.se && datum.val <= datum.m + datum.se"}
        ],
        "mark": {"type": "area", "orient": "horizontal", "color": "white", "opacity": 0.43},
        "encoding": {
         "y": {"field": "val", "type": "quantitative", "scale": {"domain": [-0.036, 0.936], "nice": false, "zero": false}, "axis": null},
         "x": {"field": "xl", "type": "quantitative", "scale": {"domain": [0.3, 5.7], "nice": false, "zero": false},
          "axis": {"orient": "top", "labels": false, "ticks": false, "tickSize": 0, "domain": false, "title": ["Reading Aloud Task", "Trained Items"], "titleFont": "Lato", "titleFontStyle": "italic", "titleFontSize": 91.5, "titleLineHeight": 113.6, "titleX": 367.1, "titleY": -153.2, "titleAlign": "center", "titleBaseline": "alphabetic", "titleAngle": 0}},
         "x2": {"field": "xr"},
         "detail": {"field": "g"}
        }
       },
       {
        "transform": [
         {"joinaggregate": [{"op": "mean", "field": "v", "as": "m"}, {"op": "stderr", "field": "v", "as": "se"}], "groupby": ["g"]},
         {"density": "v", "groupby": ["g", "p", "m", "se"], "steps": 200, "resolve": "independent", "as": ["val", "dens"]},
         {"joinaggregate": [{"op": "max", "field": "dens", "as": "dmax"}], "groupby": ["g"]},
         {"calculate": "datum.p - 0.49*datum.dens/datum.dmax", "as": "xl"},
         {"calculate": "datum.p + 0.49*datum.dens/datum.dmax", "as": "xr"},
         {"calculate": "abs(datum.val - datum.m)", "as": "dd"},
         {"joinaggregate": [{"op": "min", "field": "dd", "as": "dmin"}], "groupby": ["g"]},
         {"filter": "datum.dd == datum.dmin"}
        ],
        "mark": {"type": "rule", "color": "black", "strokeWidth": 3.6},
        "encoding": {
         "y": {"field": "m", "type": "quantitative", "scale": {"domain": [-0.036, 0.936], "nice": false, "zero": false}, "axis": null},
         "x": {"field": "xl", "type": "quantitative", "scale": {"domain": [0.3, 5.7], "nice": false, "zero": false},
          "axis": {"orient": "bottom", "values": [1.5, 4.5], "labelExpr": "datum.value < 3 ? 'Test 1' : 'Test 2'", "labelFontSize": 35.4, "ticks": false, "tickSize": 0, "labelPadding": 34.5, "title": "Session", "titleFontSize": 35.4, "titleX": -2, "titleY": 62.5, "titleAlign": "right", "titleBaseline": "alphabetic", "titleAngle": 0}},
         "x2": {"field": "xr"}
        }
       }
      ]
     },
     {"width": 139, "height": 1, "data": {"values": []}, "mark": "point"},
     {
      "width": 778.3, "height": 1019.1,
      "view": {"stroke": "#a0a0a0", "strokeWidth": 2},
      "data": {"name": "p3"},
      "resolve": {"axis": {"x": "independent", "y": "independent"}},
      "layer": [
       {
        "transform": [
         {"joinaggregate": [{"op": "mean", "field": "v", "as": "m"}, {"op": "stderr", "field": "v", "as": "se"}], "groupby": ["g"]},
         {"density": "v", "groupby": ["g", "p", "m", "se"], "steps": 200, "resolve": "independent", "as": ["val", "dens"]},
         {"joinaggregate": [{"op": "max", "field": "dens", "as": "dmax"}], "groupby": ["g"]},
         {"calculate": "datum.p - 0.295*datum.dens/datum.dmax", "as": "xl"},
         {"calculate": "datum.p + 0.295*datum.dens/datum.dmax", "as": "xr"}
        ],
        "mark": {"type": "area", "orient": "horizontal", "stroke": "white", "strokeWidth": 1, "strokeOpacity": 0.6},
        "encoding": {
         "y": {"field": "val", "type": "quantitative", "scale": {"domain": [-5.4, 5.4], "nice": false, "zero": false}, "axis": null},
         "x": {"field": "xl", "type": "quantitative", "scale": {"domain": [0.42, 2.58], "nice": false, "zero": false}, "axis": null},
         "x2": {"field": "xr"},
         "detail": {"field": "g"},
         "color": {"field": "g", "type": "nominal", "scale": {"domain": ["T1", "T2"], "range": ["#E7A797", "#B9C7D7"]}, "legend": null}
        }
       },
       {
        "mark": {"type": "circle", "size": 22, "color": "black", "opacity": 1},
        "encoding": {
         "x": {"field": "x", "type": "quantitative", "scale": {"domain": [0.42, 2.58], "nice": false, "zero": false},
          "axis": {"orient": "bottom", "values": [1, 2], "labelExpr": "datum.value == 1 ? 'Test 1' : 'Test 2'", "labelFontSize": 33.5, "tickSize": 7, "labelPadding": 3.9, "title": "Session", "titleFontSize": 33.5, "titleX": 389.15, "titleY": 73.4, "titleAlign": "center", "titleBaseline": "alphabetic", "titleAngle": 0}},
         "y": {"field": "v", "type": "quantitative", "scale": {"domain": [-5.4, 5.4], "nice": false, "zero": false},
          "axis": {"orient": "left", "values": [-5, -4, -3, -2, -1, 0, 1, 2, 3, 4, 5], "format": "~g", "labelFontSize": 34.3, "tickSize": 6, "labelPadding": 1.4, "title": "Difference Score", "titleFontSize": 37.5, "titleX": -51.1, "titleY": 509.6, "titleAngle": -90, "titleAlign": "center", "titleBaseline": "alphabetic"}}
        }
       },
       {
        "transform": [
         {"joinaggregate": [{"op": "mean", "field": "v", "as": "m"}, {"op": "stderr", "field": "v", "as": "se"}], "groupby": ["g"]},
         {"density": "v", "groupby": ["g", "p", "m", "se"], "steps": 200, "resolve": "independent", "as": ["val", "dens"]},
         {"joinaggregate": [{"op": "max", "field": "dens", "as": "dmax"}], "groupby": ["g"]},
         {"calculate": "datum.p - 0.295*datum.dens/datum.dmax", "as": "xl"},
         {"calculate": "datum.p + 0.295*datum.dens/datum.dmax", "as": "xr"},
         {"filter": "datum.val >= datum.m - datum.se && datum.val <= datum.m + datum.se"}
        ],
        "mark": {"type": "area", "orient": "horizontal", "color": "white", "opacity": 0.43},
        "encoding": {
         "y": {"field": "val", "type": "quantitative", "scale": {"domain": [-5.4, 5.4], "nice": false, "zero": false}, "axis": null},
         "x": {"field": "xl", "type": "quantitative", "scale": {"domain": [0.42, 2.58], "nice": false, "zero": false},
          "axis": {"orient": "top", "labels": false, "ticks": false, "tickSize": 0, "domain": false, "title": "Free Recall Task", "titleFont": "Lato", "titleFontStyle": "italic", "titleFontSize": 91.5, "titleX": 410.2, "titleY": -39.6, "titleAlign": "center", "titleBaseline": "alphabetic", "titleAngle": 0}},
         "x2": {"field": "xr"},
         "detail": {"field": "g"}
        }
       },
       {
        "transform": [
         {"joinaggregate": [{"op": "mean", "field": "v", "as": "m"}, {"op": "stderr", "field": "v", "as": "se"}], "groupby": ["g"]},
         {"density": "v", "groupby": ["g", "p", "m", "se"], "steps": 200, "resolve": "independent", "as": ["val", "dens"]},
         {"joinaggregate": [{"op": "max", "field": "dens", "as": "dmax"}], "groupby": ["g"]},
         {"calculate": "datum.p - 0.295*datum.dens/datum.dmax", "as": "xl"},
         {"calculate": "datum.p + 0.295*datum.dens/datum.dmax", "as": "xr"},
         {"calculate": "abs(datum.val - datum.m)", "as": "dd"},
         {"joinaggregate": [{"op": "min", "field": "dd", "as": "dmin"}], "groupby": ["g"]},
         {"filter": "datum.dd == datum.dmin"}
        ],
        "mark": {"type": "rule", "color": "black", "strokeWidth": 3.3},
        "encoding": {
         "y": {"field": "m", "type": "quantitative", "scale": {"domain": [-5.4, 5.4], "nice": false, "zero": false}, "axis": null},
         "x": {"field": "xl", "type": "quantitative", "scale": {"domain": [0.42, 2.58], "nice": false, "zero": false},
          "axis": {"orient": "bottom", "labels": false, "ticks": false, "tickSize": 0, "title": ["*Difference score = correct recall of reactivated", "items – correct recall of non-reactivated items"], "titleFont": "Lato", "titleFontStyle": "italic", "titleFontSize": 40.2, "titleLineHeight": 45, "titleX": 353.4, "titleY": 98.5, "titleAlign": "center", "titleBaseline": "top", "titleAngle": 0}},
         "x2": {"field": "xr"}
        }
       }
      ]
     },
     {"width": 229.1, "height": 1, "data": {"values": []}, "mark": "point"},
     {
      "width": 789.1, "height": 1016.2,
      "view": {"stroke": "#a0a0a0", "strokeWidth": 2},
      "data": {"name": "p4"},
      "resolve": {"axis": {"x": "independent", "y": "independent"}},
      "layer": [
       {
        "data": {"values": [{"c": 0.3333}]},
        "mark": {"type": "rule", "strokeDash": [7, 5], "color": "#b4b4b4", "strokeWidth": 1.5},
        "encoding": {
         "y": {"field": "c", "type": "quantitative", "scale": {"domain": [0.272, 1.0306], "nice": false, "zero": false}, "axis": null}
        }
       },
       {
        "transform": [
         {"joinaggregate": [{"op": "mean", "field": "v", "as": "m"}, {"op": "stderr", "field": "v", "as": "se"}], "groupby": ["g"]},
         {"density": "v", "groupby": ["g", "p", "m", "se"], "steps": 200, "resolve": "independent", "as": ["val", "dens"]},
         {"joinaggregate": [{"op": "max", "field": "dens", "as": "dmax"}], "groupby": ["g"]},
         {"calculate": "datum.p - 0.49*datum.dens/datum.dmax", "as": "xl"},
         {"calculate": "datum.p + 0.49*datum.dens/datum.dmax", "as": "xr"}
        ],
        "mark": {"type": "area", "orient": "horizontal", "stroke": "white", "strokeWidth": 1, "strokeOpacity": 0.6},
        "encoding": {
         "y": {"field": "val", "type": "quantitative", "scale": {"domain": [0.272, 1.0306], "nice": false, "zero": false}, "axis": null},
         "x": {"field": "xl", "type": "quantitative", "scale": {"domain": [0.3, 5.7], "nice": false, "zero": false}, "axis": null},
         "x2": {"field": "xr"},
         "detail": {"field": "g"},
         "color": {"field": "g", "type": "nominal", "scale": {"domain": ["T1 No", "T1 Yes", "T2 No", "T2 Yes"], "range": ["#E7A797", "#B9C7D7", "#E7A797", "#B9C7D7"]}, "legend": null}
        }
       },
       {
        "mark": {"type": "circle", "size": 22, "color": "black", "opacity": 1},
        "encoding": {
         "x": {"field": "x", "type": "quantitative", "scale": {"domain": [0.3, 5.7], "nice": false, "zero": false},
          "axis": {"orient": "bottom", "values": [1, 2, 4, 5], "labelExpr": "datum.value == 1 || datum.value == 4 ? 'No' : 'Yes'", "labelFontSize": 37.2, "tickSize": 7, "labelPadding": 0.8, "title": "Reactivated", "titleFontSize": 37.2, "titleX": -2, "titleY": 36.8, "titleAlign": "right", "titleBaseline": "alphabetic", "titleAngle": 0}},
         "y": {"field": "v", "type": "quantitative", "scale": {"domain": [0.272, 1.0306], "nice": false, "zero": false},
          "axis": {"orient": "left", "values": [0.3, 0.4, 0.5, 0.6, 0.7, 0.8, 0.9, 1], "format": "~g", "labelFontSize": 37.2, "tickSize": 9.8, "labelPadding": 10.3, "title": "Mean Accuracy", "titleFontSize": 36.5, "titleX": -102, "titleY": 508.1, "titleAngle": -90, "titleAlign": "center", "titleBaseline": "alphabetic"}}
        }
       },
       {
        "transform": [
         {"joinaggregate": [{"op": "mean", "field": "v", "as": "m"}, {"op": "stderr", "field": "v", "as": "se"}], "groupby": ["g"]},
         {"density": "v", "groupby": ["g", "p", "m", "se"], "steps": 200, "resolve": "independent", "as": ["val", "dens"]},
         {"joinaggregate": [{"op": "max", "field": "dens", "as": "dmax"}], "groupby": ["g"]},
         {"calculate": "datum.p - 0.49*datum.dens/datum.dmax", "as": "xl"},
         {"calculate": "datum.p + 0.49*datum.dens/datum.dmax", "as": "xr"},
         {"filter": "datum.val >= datum.m - datum.se && datum.val <= datum.m + datum.se"}
        ],
        "mark": {"type": "area", "orient": "horizontal", "color": "white", "opacity": 0.43},
        "encoding": {
         "y": {"field": "val", "type": "quantitative", "scale": {"domain": [0.272, 1.0306], "nice": false, "zero": false}, "axis": null},
         "x": {"field": "xl", "type": "quantitative", "scale": {"domain": [0.3, 5.7], "nice": false, "zero": false},
          "axis": {"orient": "top", "labels": false, "ticks": false, "tickSize": 0, "domain": false, "title": "3-AFC Task", "titleFont": "Lato", "titleFontStyle": "italic", "titleFontSize": 91.5, "titleX": 418.5, "titleY": -39.6, "titleAlign": "center", "titleBaseline": "alphabetic", "titleAngle": 0}},
         "x2": {"field": "xr"},
         "detail": {"field": "g"}
        }
       },
       {
        "transform": [
         {"joinaggregate": [{"op": "mean", "field": "v", "as": "m"}, {"op": "stderr", "field": "v", "as": "se"}], "groupby": ["g"]},
         {"density": "v", "groupby": ["g", "p", "m", "se"], "steps": 200, "resolve": "independent", "as": ["val", "dens"]},
         {"joinaggregate": [{"op": "max", "field": "dens", "as": "dmax"}], "groupby": ["g"]},
         {"calculate": "datum.p - 0.49*datum.dens/datum.dmax", "as": "xl"},
         {"calculate": "datum.p + 0.49*datum.dens/datum.dmax", "as": "xr"},
         {"calculate": "abs(datum.val - datum.m)", "as": "dd"},
         {"joinaggregate": [{"op": "min", "field": "dd", "as": "dmin"}], "groupby": ["g"]},
         {"filter": "datum.dd == datum.dmin"}
        ],
        "mark": {"type": "rule", "color": "black", "strokeWidth": 3.3},
        "encoding": {
         "y": {"field": "m", "type": "quantitative", "scale": {"domain": [0.272, 1.0306], "nice": false, "zero": false}, "axis": null},
         "x": {"field": "xl", "type": "quantitative", "scale": {"domain": [0.3, 5.7], "nice": false, "zero": false},
          "axis": {"orient": "bottom", "values": [1.5, 4.5], "labelExpr": "datum.value < 3 ? 'Test 1' : 'Test 2'", "labelFontSize": 37.2, "ticks": false, "tickSize": 0, "labelPadding": 32.2, "title": "Session", "titleFontSize": 37.2, "titleX": -2, "titleY": 61.2, "titleAlign": "right", "titleBaseline": "alphabetic", "titleAngle": 0}},
         "x2": {"field": "xr"}
        }
       }
      ]
     }
    ],
    "spacing": 0,
    "bounds": "flush"
   },
   {"width": 1, "height": 1217.8, "data": {"values": []}, "mark": "point"},
   {"width": 4090, "height": 0.01, "view": {"stroke": "#ED7D31", "strokeWidth": 3.9}, "data": {"values": []}, "mark": "point"}
  ],
  "spacing": 0,
  "bounds": "flush"
 }
],
"spacing": 0,
"bounds": "flush"
}
